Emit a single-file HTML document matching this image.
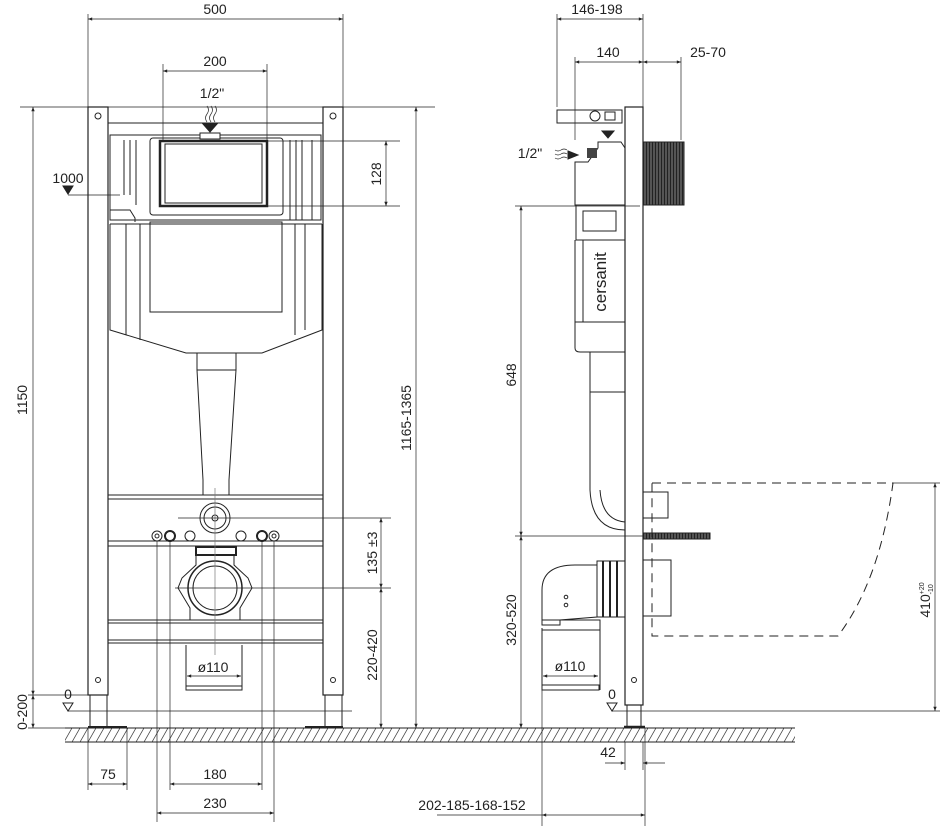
<!DOCTYPE html>
<html><head><meta charset="utf-8"><style>
html,body{margin:0;padding:0;background:#fff;}
svg{display:block;}
text{font-family:"Liberation Sans",sans-serif;font-size:14px;fill:#222;}
</style></head><body>
<svg width="950" height="836" viewBox="0 0 950 836" xmlns="http://www.w3.org/2000/svg">
<defs>
<pattern id="h" width="8" height="14" patternUnits="userSpaceOnUse"><line x1="0" y1="14" x2="8" y2="0" stroke="#444" stroke-width="0.8"/></pattern>
<pattern id="th" width="3" height="3" patternUnits="userSpaceOnUse"><rect width="3" height="3" fill="#555"/><line x1="1.5" y1="0" x2="1.5" y2="3" stroke="#222"/></pattern>
<marker id="a" viewBox="0 0 10 10" refX="10" refY="5" markerWidth="9" markerHeight="6" orient="auto-start-reverse"><path d="M0,1 L10,5 L0,9z" fill="#222"/></marker>
</defs>
<g stroke="#222" fill="none" stroke-width="1">
<!-- floor -->
<rect x="65" y="728" width="730" height="14" fill="url(#h)" stroke="none"/>
<line x1="65" y1="728" x2="795" y2="728"/><line x1="65" y1="742" x2="795" y2="742"/>

<!-- LEFT VIEW -->
<line x1="88" y1="14" x2="88" y2="107" stroke-width=".7"/><line x1="343" y1="14" x2="343" y2="107" stroke-width=".7"/>
<line x1="88" y1="19" x2="343" y2="19" marker-start="url(#a)" marker-end="url(#a)" stroke-width=".7"/>
<line x1="163" y1="64" x2="163" y2="140" stroke-width=".7"/><line x1="267" y1="64" x2="267" y2="140" stroke-width=".7"/>
<line x1="163" y1="71" x2="267" y2="71" marker-start="url(#a)" marker-end="url(#a)" stroke-width=".7"/>
<line x1="20" y1="107" x2="435" y2="107" stroke-width=".7"/>
<!-- posts -->
<rect x="88" y="107" width="20" height="588" stroke-width="1.2"/>
<rect x="323" y="107" width="20" height="588" stroke-width="1.2"/>
<rect x="90" y="695" width="17" height="33"/><rect x="325" y="695" width="17" height="33"/>
<line x1="88" y1="727" x2="127" y2="727" stroke-width="2"/><line x1="305" y1="727" x2="343" y2="727" stroke-width="2"/>
<line x1="108" y1="123" x2="323" y2="123"/>
<circle cx="98" cy="116" r="3"/><circle cx="333" cy="116" r="3"/>
<circle cx="98" cy="680" r="2.5"/><circle cx="333" cy="680" r="2.5"/>
<!-- cistern -->
<path d="M110,135 H321 V220 H110 Z"/>
<path d="M110,210 H130 L135,218 V222" />
<line x1="124" y1="140" x2="124" y2="195"/><line x1="130" y1="140" x2="130" y2="195"/><line x1="136" y1="140" x2="136" y2="205"/>
<line x1="290" y1="140" x2="290" y2="220"/><line x1="296" y1="140" x2="296" y2="220"/><line x1="302" y1="140" x2="302" y2="220"/><line x1="312" y1="140" x2="312" y2="220"/>
<rect x="150" y="138" width="133" height="77" rx="3"/>
<rect x="160" y="141" width="107" height="65" stroke-width="2.5"/>
<rect x="165" y="144" width="97" height="59"/>
<rect x="200" y="133" width="20" height="6" fill="#fff"/>
<line x1="110" y1="224" x2="322" y2="224"/>
<path d="M110,224 V330 L186,353 H262 L322,330 V224"/>
<rect x="150" y="222" width="132" height="90"/>
<line x1="126" y1="224" x2="126" y2="335"/><line x1="140" y1="224" x2="140" y2="340"/><line x1="295" y1="224" x2="295" y2="335"/><line x1="305" y1="224" x2="305" y2="330"/>
<path d="M197,353 V370 L203,480 V495 M236,353 V370 L229,480 V495"/>
<line x1="197" y1="370" x2="236" y2="370"/>
<!-- 1/2" -->
<path d="M207,106 q3,4 0,8 q-3,4 0,8 M211,106 q3,4 0,8 q-3,4 0,8 M215,106 q3,4 0,8 q-3,4 0,8" stroke-width=".7"/>
<path d="M203,124 L217,124 L210,132Z" fill="#222"/>
<!-- 1000 -->
<path d="M63,186 L73,186 L68,194Z" fill="#222"/>
<line x1="68" y1="195" x2="120" y2="195" stroke-width=".7"/>
<!-- 128 -->
<line x1="267" y1="141" x2="400" y2="141" stroke-width=".7"/><line x1="267" y1="206" x2="400" y2="206" stroke-width=".7"/>
<line x1="386" y1="141" x2="386" y2="206" marker-start="url(#a)" marker-end="url(#a)" stroke-width=".7"/>
<!-- bars -->
<line x1="108" y1="495" x2="323" y2="495"/><line x1="108" y1="499" x2="323" y2="499"/>
<line x1="108" y1="541" x2="323" y2="541"/><line x1="108" y1="546" x2="323" y2="546"/>
<line x1="108" y1="620" x2="323" y2="620"/><line x1="108" y1="623" x2="323" y2="623"/>
<line x1="108" y1="640" x2="323" y2="640"/><line x1="108" y1="643" x2="323" y2="643"/>
<circle cx="215" cy="518" r="15"/><circle cx="215" cy="518" r="11"/><circle cx="215" cy="518" r="3"/>
<circle cx="157" cy="536" r="5"/><circle cx="157" cy="536" r="2"/>
<circle cx="170" cy="536" r="5" stroke-width="2"/><circle cx="190" cy="536" r="5"/>
<circle cx="241" cy="536" r="5"/><circle cx="262" cy="536" r="5" stroke-width="2"/>
<circle cx="274" cy="536" r="5"/><circle cx="274" cy="536" r="2"/>
<rect x="196" y="547" width="40" height="8" stroke-width="2"/>
<path d="M196,555 V565 L182,578 L178,588 L190,608 V620 H240 V608 L252,588 L248,578 L234,565 V555"/>
<circle cx="215" cy="588" r="27" stroke-width="1.5"/><circle cx="215" cy="588" r="22"/>
<path d="M186,645 V690 H242 V645"/><line x1="186" y1="686" x2="242" y2="686"/>
<line x1="215" y1="488" x2="215" y2="655" stroke="#777" stroke-width=".7"/>
<line x1="178" y1="518" x2="391" y2="518" stroke-width=".7"/>
<line x1="175" y1="588" x2="391" y2="588" stroke-width=".7"/>
<line x1="381" y1="518" x2="381" y2="588" marker-start="url(#a)" marker-end="url(#a)" stroke-width=".7"/>
<line x1="381" y1="588" x2="381" y2="728" marker-start="url(#a)" marker-end="url(#a)" stroke-width=".7"/>
<line x1="416" y1="107" x2="416" y2="728" marker-start="url(#a)" marker-end="url(#a)" stroke-width=".7"/>
<line x1="33" y1="107" x2="33" y2="695" marker-start="url(#a)" marker-end="url(#a)" stroke-width=".7"/>
<line x1="33" y1="695" x2="33" y2="728" marker-start="url(#a)" marker-end="url(#a)" stroke-width=".7"/>
<line x1="28" y1="695" x2="88" y2="695" stroke-width=".7"/><line x1="28" y1="728" x2="65" y2="728" stroke-width=".7"/>
<line x1="187" y1="676" x2="241" y2="676" marker-start="url(#a)" marker-end="url(#a)" stroke-width=".7"/>
<path d="M63,703 L73,703 L68,711Z"/>
<line x1="68" y1="711" x2="352" y2="711" stroke-width=".7"/>
<!-- bottom dims -->
<line x1="88" y1="728" x2="88" y2="790" stroke-width=".7"/><line x1="127" y1="728" x2="127" y2="790" stroke-width=".7"/>
<line x1="88" y1="784" x2="127" y2="784" marker-start="url(#a)" marker-end="url(#a)" stroke-width=".7"/>
<line x1="157" y1="541" x2="157" y2="822" stroke-width=".7"/><line x1="170" y1="541" x2="170" y2="790" stroke-width=".7"/>
<line x1="262" y1="541" x2="262" y2="790" stroke-width=".7"/><line x1="274" y1="541" x2="274" y2="822" stroke-width=".7"/>
<line x1="170" y1="784" x2="262" y2="784" marker-start="url(#a)" marker-end="url(#a)" stroke-width=".7"/>
<line x1="157" y1="813" x2="274" y2="813" marker-start="url(#a)" marker-end="url(#a)" stroke-width=".7"/>

<!-- RIGHT VIEW -->
<line x1="557" y1="14" x2="557" y2="107" stroke-width=".7"/><line x1="643" y1="14" x2="643" y2="107" stroke-width=".7"/>
<line x1="557" y1="19" x2="643" y2="19" marker-start="url(#a)" marker-end="url(#a)" stroke-width=".7"/>
<line x1="575" y1="57" x2="575" y2="140" stroke-width=".7"/><line x1="681" y1="57" x2="681" y2="140" stroke-width=".7"/>
<line x1="575" y1="62" x2="643" y2="62" marker-start="url(#a)" marker-end="url(#a)" stroke-width=".7"/>
<line x1="643" y1="62" x2="681" y2="62" marker-start="url(#a)" marker-end="url(#a)" stroke-width=".7"/>
<rect x="625" y="107" width="18" height="598" stroke-width="1.2"/>
<rect x="627" y="705" width="14" height="23"/>
<line x1="624" y1="727" x2="645" y2="727" stroke-width="2.5"/>
<circle cx="634" cy="680" r="2.5"/>
<rect x="557" y="110" width="65" height="13"/><circle cx="595" cy="116" r="5"/>
<rect x="605" y="112" width="10" height="8"/>
<rect x="643" y="142" width="41" height="63" fill="url(#th)"/>
<path d="M602,131 L614,131 L608,138Z" fill="#222"/>
<path d="M598,142 H621 L625,148 V205 L575,205 V162 H588 L598,148Z"/>
<rect x="587" y="148" width="10" height="10" fill="#444" stroke="none"/>
<path d="M555,150 q3,2 6,0 q3,-2 6,0 M555,154 q3,2 6,0 q3,-2 6,0 M555,158 q3,2 6,0 q3,-2 6,0" stroke-width=".7"/>
<path d="M568,151 L578,155 L568,159Z" fill="#222"/>
<rect x="576" y="205" width="49" height="35"/><rect x="583" y="211" width="33" height="20"/>
<path d="M575,240 V348 Q575,352 580,352 H625"/>
<line x1="583" y1="240" x2="583" y2="322"/><line x1="575" y1="322" x2="625" y2="322"/>
<path d="M590,352 V390 L590,490 Q592,530 625,530"/><line x1="590" y1="392" x2="625" y2="392"/>
<path d="M600,490 Q602,520 625,522"/>
<line x1="515" y1="206" x2="640" y2="206" stroke-width=".7"/>
<line x1="515" y1="536" x2="650" y2="536" stroke-width=".7"/>
<line x1="521" y1="206" x2="521" y2="536" marker-start="url(#a)" marker-end="url(#a)" stroke-width=".7"/>
<line x1="521" y1="536" x2="521" y2="728" marker-start="url(#a)" marker-end="url(#a)" stroke-width=".7"/>
<rect x="643" y="533" width="67" height="6" fill="url(#th)"/>
<rect x="643" y="492" width="25" height="26"/><rect x="643" y="560" width="28" height="56"/>
<!-- elbow -->
<path d="M542,625 V590 Q542,565 575,565 H597 V617 L560,620 V625Z"/>
<path d="M542,620 H600 V630 H542" />
<path d="M542,628 V690 M600,630 V690"/><rect x="542" y="685" width="57" height="5"/>
<rect x="597" y="561" width="28" height="56"/>
<line x1="603" y1="561" x2="603" y2="617" stroke-width="2"/><line x1="610" y1="561" x2="610" y2="617" stroke-width="2"/><line x1="617" y1="561" x2="617" y2="617" stroke-width="2"/>
<circle cx="566" cy="597" r="1.8"/><circle cx="566" cy="605" r="1.8"/>
<line x1="543" y1="676" x2="598" y2="676" marker-start="url(#a)" marker-end="url(#a)" stroke-width=".7"/>
<!-- dashed toilet -->
<path d="M652,483 H893 Q880,580 838,636 H652 V483" stroke-dasharray="9,6"/>
<line x1="893" y1="483" x2="940" y2="483" stroke-width=".7"/>
<line x1="935" y1="483" x2="935" y2="711" marker-start="url(#a)" marker-end="url(#a)" stroke-width=".7"/>
<path d="M607,703 L617,703 L612,711Z"/>
<line x1="612" y1="711" x2="940" y2="711" stroke-width=".7"/>
<line x1="625" y1="742" x2="625" y2="770" stroke-width=".7"/><line x1="643" y1="742" x2="643" y2="770" stroke-width=".7"/>
<line x1="605" y1="763" x2="625" y2="763" marker-end="url(#a)" stroke-width=".7"/>
<line x1="665" y1="763" x2="643" y2="763" marker-end="url(#a)" stroke-width=".7"/>
<line x1="542" y1="690" x2="542" y2="826" stroke-width=".7"/><line x1="645" y1="728" x2="645" y2="826" stroke-width=".7"/>
<line x1="437" y1="815" x2="542" y2="815" stroke-width=".7"/>
<line x1="542" y1="815" x2="645" y2="815" marker-start="url(#a)" marker-end="url(#a)" stroke-width=".7"/>
</g>
<g>
<text x="215" y="14" text-anchor="middle">500</text>
<text x="215" y="66" text-anchor="middle">200</text>
<text x="212" y="98" text-anchor="middle">1/2"</text>
<text x="68" y="183" text-anchor="middle">1000</text>
<text x="68" y="699" text-anchor="middle">0</text>
<text transform="translate(381,174) rotate(-90)" text-anchor="middle">128</text>
<text transform="translate(377,553) rotate(-90)" text-anchor="middle">135 ±3</text>
<text transform="translate(377,655) rotate(-90)" text-anchor="middle">220-420</text>
<text transform="translate(411,418) rotate(-90)" text-anchor="middle">1165-1365</text>
<text transform="translate(27,400) rotate(-90)" text-anchor="middle">1150</text>
<text transform="translate(27,712) rotate(-90)" text-anchor="middle">0-200</text>
<text x="213" y="672" text-anchor="middle">ø110</text>
<text x="108" y="779" text-anchor="middle">75</text>
<text x="215" y="779" text-anchor="middle">180</text>
<text x="215" y="808" text-anchor="middle">230</text>
<text x="597" y="14" text-anchor="middle">146-198</text>
<text x="608" y="57" text-anchor="middle">140</text>
<text x="708" y="57" text-anchor="middle">25-70</text>
<text x="530" y="158" text-anchor="middle">1/2"</text>
<text transform="translate(606,282) rotate(-90)" text-anchor="middle" style="font-size:17px">cersanit</text>
<text transform="translate(516,375) rotate(-90)" text-anchor="middle">648</text>
<text transform="translate(516,620) rotate(-90)" text-anchor="middle">320-520</text>
<text x="570" y="671" text-anchor="middle">ø110</text>
<text x="612" y="699" text-anchor="middle">0</text>
<text x="608" y="757" text-anchor="middle">42</text>
<text x="472" y="810" text-anchor="middle">202-185-168-152</text>
<text transform="translate(930,600) rotate(-90)" text-anchor="middle">410<tspan dy="-6" style="font-size:7px">+20</tspan><tspan dx="-12" dy="9" style="font-size:7px">-10</tspan></text>
</g>
</svg>
</body></html>
